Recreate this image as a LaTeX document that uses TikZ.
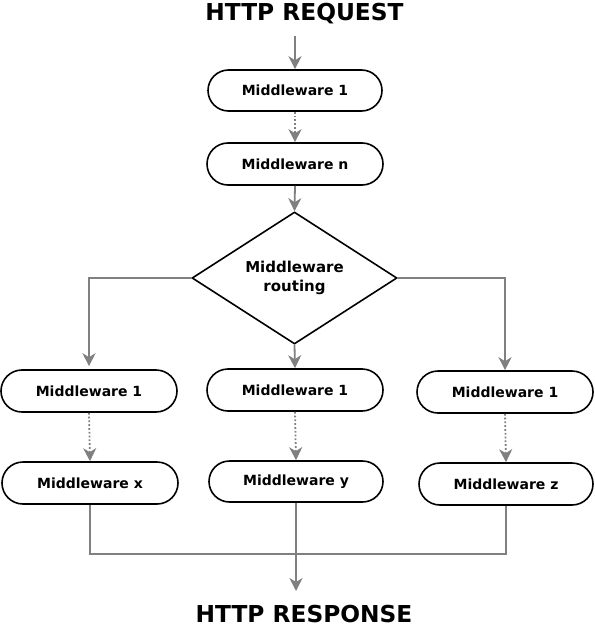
\documentclass[tikz,border=0pt]{standalone}
\usepackage{fontspec}
\setmainfont{DejaVu Sans}
\usetikzlibrary{shapes.misc,shapes.geometric,arrows.meta}
\definecolor{linegray}{HTML}{808080}
\tikzset{
  mw/.style={rounded rectangle, draw=black, line width=1.6pt, minimum width=176pt,
    minimum height=42pt, inner sep=0pt, font=\fontsize{14}{16}\selectfont\bfseries},
  router/.style={diamond, draw=black, line width=1.6pt, minimum width=205pt,
    minimum height=128pt, inner sep=0pt, align=center, font=\fontsize{15}{19}\selectfont\bfseries},
  title/.style={font=\fontsize{23.3}{26}\selectfont\bfseries, inner sep=0pt},
  link/.style={draw=linegray, line width=1.8pt},
  flow/.style={link, -{Stealth[length=13pt,width=13pt,inset=4pt]}},
  dotflow/.style={flow, dotted},
}
\begin{document}
\begin{tikzpicture}[x=1pt,y=-1pt]
\useasboundingbox (0,0) rectangle (594,628);
\node[title] (req) at (304.5,14) {HTTP REQUEST};
\coordinate (reqend) at (295,36);
\node[mw, minimum width=174pt, minimum height=41pt] (m1) at (295,90.5) {Middleware 1};
\node[mw] (mn) at (295,164) {Middleware n};
\node[router] (rt) at (294.5,278) {Middleware\\routing};
\node[mw] (a1) at (89,391) {Middleware 1};
\node[mw] (b1) at (295,390) {Middleware 1};
\node[mw] (c1) at (505,392) {Middleware 1};
\node[mw] (ax) at (90,483) {Middleware x};
\node[mw, minimum width=174pt, minimum height=41pt] (by) at (296,481.5) {Middleware y};
\node[mw, minimum width=174pt] (cz) at (506,484) {Middleware z};
\node[title] (resp) at (304,614) {HTTP RESPONSE};
\coordinate (join) at (296,554);
\coordinate (respend) at (296,591);

\draw[flow] (reqend) -- (m1.north);
\draw[dotflow] (m1.south) -- (mn.north);
\draw[flow] (mn.south) -- (rt.north);
\draw[flow, shorten >=3pt] (rt.west) -| (a1.north);
\draw[flow] (rt.east) -| (c1.north);
\draw[flow] (rt.south) -- (b1.north);
\draw[dotflow] (a1.south) -- (ax.north);
\draw[dotflow] (b1.south) -- (by.north);
\draw[dotflow] (c1.south) -- (cz.north);
\draw[link] (ax.south) |- (join) -| (cz.south);
\draw[flow] (by.south) -- (respend);
\end{tikzpicture}
\end{document}
